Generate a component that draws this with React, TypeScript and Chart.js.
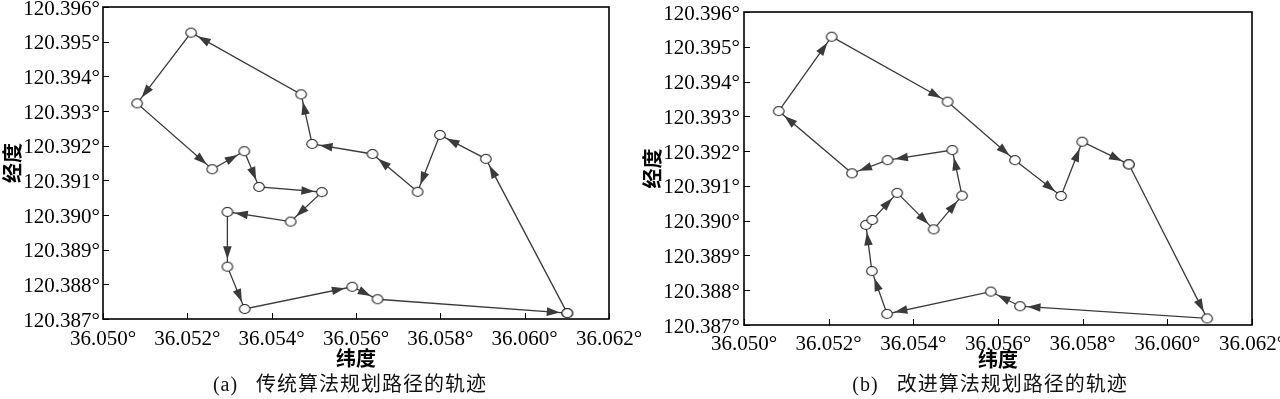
import React, { useEffect, useRef } from "react";
import { Chart, registerables } from "chart.js";

Chart.register(...registerables);

// ---------- tick values / labels ----------
const xTickValues = [36.05, 36.052, 36.054, 36.056, 36.058, 36.06, 36.062];
const xTickLabels = ["36.050°", "36.052°", "36.054°", "36.056°", "36.058°", "36.060°", "36.062°"];
const yTickValues = [120.387, 120.388, 120.389, 120.39, 120.391, 120.392, 120.393, 120.394, 120.395, 120.396];
const yTickLabels = ["120.387°", "120.388°", "120.389°", "120.390°", "120.391°", "120.392°", "120.393°", "120.394°", "120.395°", "120.396°"];

const xTitle = "纬度";
const yTitle = "经度";
const captionA = "(a) 传统算法规划路径的轨迹";
const captionB = "(b) 改进算法规划路径的轨迹";

// ---------- (a) traditional algorithm path (closed loop) ----------
const latTraditional = [
  36.06101, 36.05908, 36.05799, 36.05746, 36.05639, 36.05496, 36.0547, 36.05209, 36.05081, 36.05259,
  36.05335, 36.0537, 36.05519, 36.05445, 36.05295, 36.05295, 36.05336, 36.05591, 36.05651, 36.06101,
];
const lonTraditional = [
  120.38717, 120.39162, 120.39231, 120.39067, 120.39176, 120.39205, 120.39348, 120.39526, 120.39322, 120.39132,
  120.39184, 120.39081, 120.39066, 120.38981, 120.39009, 120.38851, 120.38729, 120.38793, 120.38757, 120.38717,
];

// ---------- (b) improved algorithm path (closed loop) ----------
const latImproved = [
  36.05909, 36.06094, 36.05652, 36.05583, 36.05338, 36.05302, 36.05288, 36.05303, 36.05362, 36.05448,
  36.05515, 36.05492, 36.05339, 36.05255, 36.05082, 36.05207, 36.05481, 36.0564, 36.05749, 36.05799, 36.05909,
];
const lonImproved = [
  120.39162, 120.38719, 120.38754, 120.38796, 120.38732, 120.38855, 120.38988, 120.39002, 120.3908, 120.38975,
  120.39072, 120.39203, 120.39174, 120.39136, 120.39315, 120.39529, 120.39342, 120.39174, 120.39071, 120.39227, 120.39162,
];

const CANVAS_W = 1300;
const CANVAS_H = 440;
const LINE_COLOR = "#3a3a3a";

type Geom = {
  padLeft: number;
  padRight: number;
  padTop: number;
  padBottom: number;
  yWidth: number;
  xHeight: number;
  xLabelPad: number;
  yLabelPad: number;
};

const geomA: Geom = { padLeft: 0, padRight: CANVAS_W - 609, padTop: 27, padBottom: 50, yWidth: 103, xHeight: 51, xLabelPad: 8, yLabelPad: 3 };
const geomB: Geom = { padLeft: 640, padRight: CANVAS_W - 1252, padTop: 32, padBottom: 49, yWidth: 104, xHeight: 46, xLabelPad: 6.5, yLabelPad: 4 };

function makePointImage(): HTMLCanvasElement {
  const c = document.createElement("canvas");
  c.width = 14;
  c.height = 12;
  const g = c.getContext("2d")!;
  g.beginPath();
  g.ellipse(7, 6, 5.3, 4.5, 0, 0, Math.PI * 2);
  g.fillStyle = "#ffffff";
  g.fill();
  g.lineWidth = 1.1;
  g.strokeStyle = "#1e1e1e";
  g.stroke();
  return c;
}

const framePlugin = {
  id: "frameTicks",
  beforeDatasetsDraw(chart: any) {
    const { ctx, chartArea } = chart;
    const xs = chart.scales.x;
    const ys = chart.scales.y;
    ctx.save();
    ctx.strokeStyle = "#000";
    ctx.lineWidth = 1;
    const tl = 6;
    xTickValues.forEach((v) => {
      const px = Math.round(xs.getPixelForValue(v)) + 0.5;
      ctx.beginPath();
      ctx.moveTo(px, chartArea.bottom);
      ctx.lineTo(px, chartArea.bottom - tl);
      ctx.stroke();
    });
    yTickValues.forEach((v) => {
      const py = Math.round(ys.getPixelForValue(v)) + 0.5;
      ctx.beginPath();
      ctx.moveTo(chartArea.left, py);
      ctx.lineTo(chartArea.left + tl, py);
      ctx.stroke();
    });
    ctx.lineWidth = 1.6;
    ctx.strokeRect(chartArea.left, chartArea.top, chartArea.right - chartArea.left, chartArea.bottom - chartArea.top);
    ctx.restore();
  },
};

const arrowPlugin = {
  id: "arrows",
  afterDatasetsDraw(chart: any) {
    const meta = chart.getDatasetMeta(0);
    const pts = meta.data;
    const ctx = chart.ctx;
    ctx.save();
    ctx.fillStyle = LINE_COLOR;
    for (let i = 0; i < pts.length - 1; i++) {
      const p0 = pts[i];
      const p1 = pts[i + 1];
      const dx = p1.x - p0.x;
      const dy = p1.y - p0.y;
      const len = Math.hypot(dx, dy);
      if (len < 20) continue;
      const ux = dx / len;
      const uy = dy / len;
      const tipX = p1.x - ux * 7.5;
      const tipY = p1.y - uy * 7.5;
      const baseX = tipX - ux * 13;
      const baseY = tipY - uy * 13;
      const w = 4.3;
      ctx.beginPath();
      ctx.moveTo(tipX, tipY);
      ctx.lineTo(baseX - uy * w, baseY + ux * w);
      ctx.lineTo(baseX + uy * w, baseY - ux * w);
      ctx.closePath();
      ctx.fill();
    }
    ctx.restore();
  },
};

function makeConfig(lat: number[], lon: number[], geom: Geom, pointImg: HTMLCanvasElement): any {
  const tickFont = { family: "'Liberation Serif', 'Times New Roman', serif", size: 21 };
  const titleFont = { family: "'Noto Sans CJK SC', sans-serif", size: 20, weight: "bold" as const };
  return {
    type: "scatter",
    data: {
      datasets: [
        {
          data: lat.map((x, i) => ({ x, y: lon[i] })),
          showLine: true,
          borderColor: LINE_COLOR,
          borderWidth: 1.3,
          tension: 0,
          pointStyle: pointImg,
          pointRadius: 5,
          pointHoverRadius: 5,
          clip: false,
        },
      ],
    },
    options: {
      animation: false,
      responsive: false,
      devicePixelRatio: 1,
      events: [],
      layout: {
        padding: { left: geom.padLeft, right: geom.padRight, top: geom.padTop, bottom: geom.padBottom },
      },
      plugins: { legend: { display: false }, tooltip: { enabled: false }, title: { display: false } },
      scales: {
        x: {
          type: "linear",
          position: "bottom",
          min: 36.05,
          max: 36.062,
          afterBuildTicks: (s: any) => {
            s.ticks = xTickValues.map((v) => ({ value: v }));
          },
          afterFit: (s: any) => {
            s.height = geom.xHeight;
          },
          ticks: {
            callback: (_v: any, i: number) => xTickLabels[i],
            font: tickFont,
            color: "#000",
            padding: geom.xLabelPad,
            maxRotation: 0,
            minRotation: 0,
            autoSkip: false,
          },
          grid: { display: false, drawTicks: false },
          border: { display: false },
          title: { display: true, text: xTitle, font: titleFont, color: "#000", padding: 0 },
        },
        y: {
          type: "linear",
          position: "left",
          min: 120.387,
          max: 120.396,
          afterBuildTicks: (s: any) => {
            s.ticks = yTickValues.map((v) => ({ value: v }));
          },
          afterFit: (s: any) => {
            s.width = geom.yWidth;
          },
          ticks: {
            callback: (_v: any, i: number) => yTickLabels[i],
            font: tickFont,
            color: "#000",
            padding: geom.yLabelPad,
            labelOffset: 2,
            autoSkip: false,
          },
          grid: { display: false, drawTicks: false },
          border: { display: false },
          title: { display: true, text: yTitle, font: titleFont, color: "#000", padding: 0 },
        },
      },
    },
    plugins: [framePlugin, arrowPlugin],
  };
}

function PathChart({ lat, lon, geom }: { lat: number[]; lon: number[]; geom: Geom }) {
  const ref = useRef<HTMLCanvasElement | null>(null);
  useEffect(() => {
    if (!ref.current) return;
    const img = makePointImage();
    const chart = new Chart(ref.current, makeConfig(lat, lon, geom, img));
    return () => chart.destroy();
  }, [lat, lon, geom]);
  return (
    <canvas
      ref={ref}
      width={CANVAS_W}
      height={CANVAS_H}
      style={{ position: "absolute", left: 0, top: -20, width: CANVAS_W, height: CANVAS_H }}
    />
  );
}

const captionStyle = (center: number): React.CSSProperties => ({
  position: "absolute",
  left: center - 200,
  width: 400,
  top: 372,
  height: 24,
  lineHeight: "24px",
  textAlign: "center",
  fontFamily: "'Liberation Serif', 'Noto Sans CJK SC', serif",
  fontSize: 20,
  letterSpacing: "1px",
  wordSpacing: "12px",
  color: "#111",
  whiteSpace: "pre",
});

export default function App() {
  return (
    <div
      style={{
        position: "absolute",
        left: 0,
        top: 0,
        width: 1280,
        height: 399,
        overflow: "hidden",
        background: "#ffffff",
      }}
    >
      <PathChart lat={latTraditional} lon={lonTraditional} geom={geomA} />
      <PathChart lat={latImproved} lon={lonImproved} geom={geomB} />
      <div style={captionStyle(350)}>{captionA}</div>
      <div style={captionStyle(990)}>{captionB}</div>
    </div>
  );
}
